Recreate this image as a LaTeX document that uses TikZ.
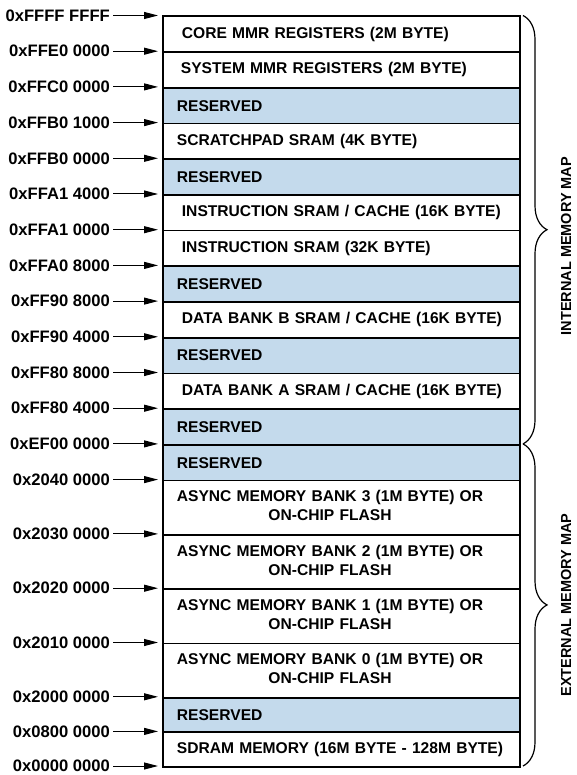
\documentclass[tikz,border=0pt]{standalone}
\usepackage{fontspec}
\setmainfont{Liberation Sans}
\usetikzlibrary{arrows, arrows.meta}
\usetikzlibrary{calc}
\usetikzlibrary{decorations.pathreplacing}
\definecolor{resblue}{RGB}{196,218,236}

\begin{document}
\begin{tikzpicture}[x=1pt, y=-1pt,
    memrow/.style={draw, line width=1.8pt, anchor=north west, minimum width=357pt, text width=329pt, inner xsep=14pt, inner ysep=0pt, align=left, font=\fontsize{15.6}{19}\selectfont\bfseries},
    resrow/.style={memrow, fill=resblue},
    addr/.style={anchor=east, inner sep=3pt, font=\fontsize{16.6}{18}\selectfont\bfseries},
    addrarrow/.style={line width=1pt, -{Triangle[length=14pt, width=7pt]}},
    mapbrace/.style={decorate, decoration={brace, amplitude=24pt}, line width=1.2pt},
    maplabel/.style={rotate=90, font=\fontsize{14.5}{16}\selectfont\bfseries}]
      \useasboundingbox (0,0) rectangle (576,775);

      % memory rows
      \node[memrow, minimum height=35.7pt] (r1) at (162,15.5) {\hspace*{5pt}CORE MMR REGISTERS (2M BYTE)};
      \node[memrow, minimum height=35.7pt] (r2) at (162,51.2) {\hspace*{4pt}SYSTEM MMR REGISTERS (2M BYTE)};
      \node[resrow, minimum height=35.7pt] (r3) at (162,86.9) {RESERVED};
      \node[memrow, minimum height=35.7pt] (r4) at (162,122.6) {SCRATCHPAD SRAM (4K BYTE)};
      \node[resrow, minimum height=35.7pt] (r5) at (162,158.3) {RESERVED};
      \node[memrow, minimum height=35.7pt] (r6) at (162,194) {\hspace*{5pt}INSTRUCTION SRAM / CACHE (16K BYTE)};
      \node[memrow, minimum height=35.7pt] (r7) at (162,229.7) {\hspace*{5pt}INSTRUCTION SRAM (32K BYTE)};
      \node[resrow, minimum height=35.7pt] (r8) at (162,265.4) {RESERVED};
      \node[memrow, minimum height=35.7pt] (r9) at (162,301.1) {\hspace*{5pt}DATA BANK B SRAM / CACHE (16K BYTE)};
      \node[resrow, minimum height=35.7pt] (r10) at (162,336.8) {RESERVED};
      \node[memrow, minimum height=35.7pt] (r11) at (162,372.5) {\hspace*{5pt}DATA BANK A SRAM / CACHE (16K BYTE)};
      \node[resrow, minimum height=35.7pt] (r12) at (162,408.2) {RESERVED};
      \node[resrow, minimum height=35.7pt] (r13) at (162,443.9) {RESERVED};
      \node[memrow, minimum height=54.3pt] (r14) at (162,479.6) {\begin{tabular}{@{}c@{}}ASYNC MEMORY BANK 3 (1M BYTE) OR\\ON-CHIP FLASH\end{tabular}};
      \node[memrow, minimum height=54.3pt] (r15) at (162,533.9) {\begin{tabular}{@{}c@{}}ASYNC MEMORY BANK 2 (1M BYTE) OR\\ON-CHIP FLASH\end{tabular}};
      \node[memrow, minimum height=54.3pt] (r16) at (162,588.2) {\begin{tabular}{@{}c@{}}ASYNC MEMORY BANK 1 (1M BYTE) OR\\ON-CHIP FLASH\end{tabular}};
      \node[memrow, minimum height=54.3pt] (r17) at (162,642.5) {\begin{tabular}{@{}c@{}}ASYNC MEMORY BANK 0 (1M BYTE) OR\\ON-CHIP FLASH\end{tabular}};
      \node[resrow, minimum height=34.6pt] (r18) at (162,696.8) {RESERVED};
      \node[memrow, minimum height=34.6pt] (r19) at (162,731.4) {SDRAM MEMORY (16M BYTE - 128M BYTE)};

      % start addresses
      \node[addr] (a1) at (113,15.5) {0xFFFF FFFF};
      \node[addr] (a2) at (113,51.2) {0xFFE0 0000};
      \node[addr] (a3) at (113,86.9) {0xFFC0 0000};
      \node[addr] (a4) at (113,122.6) {0xFFB0 1000};
      \node[addr] (a5) at (113,158.3) {0xFFB0 0000};
      \node[addr] (a6) at (113,194) {0xFFA1 4000};
      \node[addr] (a7) at (113,229.7) {0xFFA1 0000};
      \node[addr] (a8) at (113,265.4) {0xFFA0 8000};
      \node[addr] (a9) at (113,301.1) {0xFF90 8000};
      \node[addr] (a10) at (113,336.8) {0xFF90 4000};
      \node[addr] (a11) at (113,372.5) {0xFF80 8000};
      \node[addr] (a12) at (113,408.2) {0xFF80 4000};
      \node[addr] (a13) at (113,443.9) {0xEF00 0000};
      \node[addr] (a14) at (113,479.6) {0x2040 0000};
      \node[addr] (a15) at (113,533.9) {0x2030 0000};
      \node[addr] (a16) at (113,588.2) {0x2020 0000};
      \node[addr] (a17) at (113,642.5) {0x2010 0000};
      \node[addr] (a18) at (113,696.8) {0x2000 0000};
      \node[addr] (a19) at (113,731.4) {0x0800 0000};
      \node[addr] (a20) at (113,766) {0x0000 0000};

      \foreach \i/\y in {1/15.5, 2/51.2, 3/86.9, 4/122.6, 5/158.3, 6/194, 7/229.7, 8/265.4, 9/301.1, 10/336.8,
                         11/372.5, 12/408.2, 13/443.9, 14/479.6, 15/533.9, 16/588.2, 17/642.5, 18/696.8, 19/731.4, 20/766}
        \coordinate (p\i) at (158,\y);
      \foreach \i in {1,...,20}
        \draw[addrarrow] (a\i) -- (p\i);

      % internal / external
      \coordinate (bi1) at (523,15.5);
      \coordinate (bi2) at (523,443.9);
      \coordinate (be2) at (523,766);
      \draw[mapbrace] (bi1) -- (bi2);
      \draw[mapbrace] (bi2) -- (be2);
      \node[maplabel] (intmap) at (566,246) {INTERNAL MEMORY MAP};
      \node[maplabel] (extmap) at (566,605) {EXTERNAL MEMORY MAP};
    \end{tikzpicture}
\end{document}
